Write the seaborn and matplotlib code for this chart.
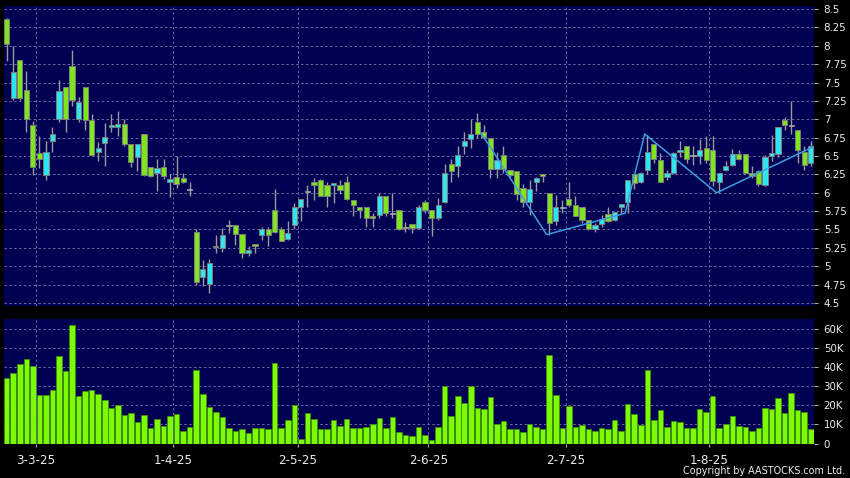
import matplotlib
matplotlib.use("Agg")
import matplotlib.pyplot as plt
import numpy as np
import seaborn as sns

# daily candles, Feb-24-25 .. Aug-25-25 (trading days only)
open_ = [8.36, 7.29, 7.80, 7.40, 6.92, 6.54, 6.24, 6.70, 7.00, 7.44,
         7.73, 7.00, 7.44, 6.99, 6.56, 6.68, 6.89, 6.89, 6.93, 6.66,
         6.48, 6.80, 6.35, 6.27, 6.35, 6.15, 6.22, 6.20, 6.04, 5.46,
         4.85, 4.76, 5.28, 5.25, 5.55, 5.56, 5.44, 5.18, 5.30, 5.43,
         5.50, 5.77, 5.50, 5.37, 5.56, 5.80, 6.02, 6.14, 6.17, 6.10,
         6.10, 6.10, 6.15, 5.90, 5.81, 5.81, 5.69, 5.70, 5.95, 5.72,
         5.76, 5.53, 5.57, 5.52, 5.87, 5.76, 5.65, 5.88, 6.39, 6.37,
         6.64, 6.73, 6.96, 6.82, 6.75, 6.32, 6.51, 6.31, 6.30, 6.07,
         5.88, 6.14, 6.26, 5.99, 5.61, 5.80, 5.91, 5.84, 5.80, 5.63,
         5.50, 5.58, 5.71, 5.63, 5.80, 5.88, 6.25, 6.14, 6.31, 6.66,
         6.44, 6.21, 6.27, 6.55, 6.64, 6.51, 6.50, 6.61, 6.58, 6.14,
         6.31, 6.38, 6.53, 6.53, 6.27, 6.29, 6.11, 6.50, 6.53, 6.99,
         6.92, 6.85, 6.56, 6.40]
high = [8.38, 8.00, 7.80, 7.65, 6.97, 6.77, 6.71, 6.89, 7.54, 7.44,
        7.94, 7.30, 7.44, 7.07, 6.69, 6.95, 7.07, 7.11, 7.00, 6.67,
        6.66, 6.80, 6.35, 6.46, 6.46, 6.26, 6.50, 6.27, 6.14, 5.50,
        5.08, 5.10, 5.43, 5.52, 5.63, 5.56, 5.44, 5.28, 5.30, 5.53,
        5.54, 6.05, 5.53, 5.62, 5.86, 5.91, 6.11, 6.20, 6.19, 6.14,
        6.13, 6.18, 6.23, 5.90, 5.81, 5.81, 5.72, 5.99, 5.95, 6.00,
        5.76, 5.60, 5.57, 5.83, 5.90, 5.76, 5.93, 6.39, 6.46, 6.64,
        6.82, 7.01, 7.08, 6.92, 6.75, 6.56, 6.64, 6.31, 6.30, 6.12,
        6.18, 6.22, 6.26, 5.99, 5.97, 5.90, 6.14, 5.95, 5.80, 5.63,
        5.59, 5.70, 5.81, 5.74, 5.85, 6.18, 6.25, 6.28, 6.79, 6.66,
        6.54, 6.31, 6.56, 6.70, 6.64, 6.63, 6.73, 6.77, 6.77, 6.27,
        6.43, 6.60, 6.58, 6.53, 6.36, 6.31, 6.51, 6.79, 6.89, 7.03,
        7.25, 6.85, 6.63, 6.70]
low = [7.79, 7.26, 7.26, 6.82, 6.24, 6.33, 6.18, 6.56, 6.96, 6.83,
       7.18, 6.96, 6.86, 6.51, 6.43, 6.37, 6.82, 6.77, 6.64, 6.35,
       6.30, 6.23, 6.21, 6.03, 6.19, 5.94, 6.07, 6.13, 5.96, 4.75,
       4.73, 4.64, 5.18, 5.20, 5.45, 5.29, 5.11, 5.14, 5.18, 5.36,
       5.28, 5.45, 5.34, 5.36, 5.50, 5.61, 5.81, 5.90, 5.95, 5.80,
       5.86, 5.98, 5.90, 5.69, 5.65, 5.53, 5.54, 5.66, 5.68, 5.66,
       5.49, 5.47, 5.45, 5.50, 5.72, 5.41, 5.63, 5.86, 6.14, 6.21,
       6.53, 6.61, 6.75, 6.73, 6.20, 6.20, 6.27, 6.22, 5.90, 5.81,
       5.70, 6.02, 6.14, 5.43, 5.56, 5.72, 5.80, 5.68, 5.59, 5.49,
       5.46, 5.54, 5.60, 5.62, 5.72, 5.72, 6.05, 6.13, 6.25, 6.40,
       6.14, 6.17, 6.25, 6.49, 6.40, 6.38, 6.39, 6.40, 6.09, 6.00,
       6.29, 6.36, 6.45, 6.26, 6.20, 6.09, 6.09, 6.43, 6.49, 6.86,
       6.80, 6.40, 6.31, 6.37]
close = [8.02, 7.64, 7.29, 7.01, 6.35, 6.46, 6.56, 6.80, 7.39, 7.01,
         7.26, 7.23, 6.99, 6.51, 6.61, 6.76, 6.92, 6.93, 6.66, 6.42,
         6.66, 6.24, 6.23, 6.33, 6.23, 6.19, 6.12, 6.15, 6.04, 4.78,
         4.96, 5.04, 5.26, 5.43, 5.55, 5.44, 5.18, 5.22, 5.27, 5.50,
         5.43, 5.47, 5.35, 5.45, 5.80, 5.91, 6.02, 6.10, 5.95, 5.95,
         6.13, 6.04, 5.91, 5.83, 5.76, 5.66, 5.66, 5.95, 5.72, 5.72,
         5.51, 5.53, 5.52, 5.80, 5.77, 5.65, 5.83, 6.27, 6.29, 6.52,
         6.71, 6.80, 6.80, 6.76, 6.32, 6.44, 6.32, 6.24, 5.98, 5.88,
         6.05, 6.20, 6.23, 5.59, 5.80, 5.80, 5.84, 5.69, 5.63, 5.50,
         5.56, 5.64, 5.62, 5.74, 5.85, 6.18, 6.13, 6.27, 6.56, 6.46,
         6.15, 6.27, 6.54, 6.58, 6.46, 6.51, 6.58, 6.45, 6.16, 6.27,
         6.37, 6.53, 6.46, 6.27, 6.23, 6.12, 6.49, 6.54, 6.89, 6.92,
         6.92, 6.58, 6.38, 6.63]
volume_k = [34.4, 36.8, 41.8, 44.2, 40.7, 25.4, 25.4, 27.9, 46.1, 38.2,
            62.3, 25.1, 27.5, 27.9, 26.0, 23.0, 18.9, 20.2, 14.9, 15.8,
            11.2, 15.1, 8.2, 12.8, 9.3, 14.6, 15.3, 6.5, 8.6, 38.6,
            25.8, 19.1, 16.8, 13.9, 8.1, 6.8, 7.5, 5.4, 8.1, 7.9,
            7.5, 42.1, 8.1, 12.3, 20.0, 2.6, 16.1, 13.0, 7.4, 7.7,
            12.1, 9.1, 13.0, 8.1, 8.4, 8.8, 10.2, 13.2, 8.4, 14.0,
            6.3, 4.7, 3.9, 8.8, 4.4, 2.1, 8.8, 30.2, 14.4, 24.9,
            21.1, 30.4, 18.6, 18.2, 24.6, 10.2, 11.6, 7.5, 7.5, 6.0,
            10.5, 8.6, 7.4, 46.3, 25.4, 8.2, 19.6, 8.6, 9.6, 7.4,
            6.5, 7.9, 7.5, 12.1, 6.5, 20.7, 15.3, 9.6, 38.6, 12.1,
            17.5, 8.9, 11.8, 11.2, 7.9, 7.9, 18.1, 16.5, 24.7, 8.2,
            10.2, 14.7, 9.1, 8.6, 6.7, 8.1, 18.9, 18.2, 24.0, 16.0,
            26.5, 17.5, 16.5, 7.7]

# month labels and the trading-day index of the first day of each month
month_labels = ["3-3-25", "1-4-25", "2-5-25", "2-6-25", "2-7-25", "1-8-25"]
month_first_day = [5, 26, 45, 65, 86, 108]

# zig-zag trend line (day index, price)
zig_day = [72.6, 82.6, 94.6, 97.6, 108.6, 123.5]
zig_price = [6.81, 5.43, 5.72, 6.80, 6.00, 6.63]

price_ticks = [4.5, 4.75, 5, 5.25, 5.5, 5.75, 6, 6.25, 6.5, 6.75, 7, 7.25, 7.5, 7.75, 8, 8.25, 8.5]
volume_ticks_k = [0, 10, 20, 30, 40, 50, 60]

NAVY = "#000052"
UP = "#2ee6f0"
DOWN = "#7ee61c"
VOL = "#7cfc00"
GRID = "#6a6aa6"
TXT = "#ececec"

sns.set_style("dark", {"axes.facecolor": NAVY, "figure.facecolor": "black"})
plt.rcParams["font.family"] = ["DejaVu Sans"]

fig = plt.figure(figsize=(8.5, 4.78), dpi=100, facecolor="black")
ax_p = fig.add_axes([4 / 850, 1 - 306 / 478, 810 / 850, 300 / 478])
ax_v = fig.add_axes([4 / 850, 1 - 443.5 / 478, 810 / 850, 124.5 / 478])

day = np.arange(len(open_))
o = np.array(open_)
c = np.array(close)
up = c > o
flat = c == o

# wicks
ax_p.vlines(day, low, high, color="#9a9a9a", lw=1, zorder=3)
# bodies
body_bottom = np.minimum(o, c)
body_height = np.abs(c - o)
colors = np.where(up, UP, DOWN)
ax_p.bar(day[~flat], body_height[~flat], bottom=body_bottom[~flat], width=0.8,
         color=colors[~flat], edgecolor="#7c7c7c", linewidth=0.7, zorder=4)
ax_p.bar(day[flat], 0.012, bottom=o[flat] - 0.006, width=0.8,
         color="#a8a8a8", edgecolor="#a8a8a8", linewidth=0.5, zorder=4)

# trend line
sns.lineplot(x=zig_day, y=zig_price, ax=ax_p, color="#3d9de0", lw=1.1, zorder=5, sort=False)

# volume
sns.barplot(x=day, y=np.array(volume_k) * 1000, native_scale=True, ax=ax_v,
            color=VOL, saturation=1, edgecolor="#3e8a10", linewidth=0.6,
            width=0.85, errorbar=None)

grid_x = [d - 0.5 for d in month_first_day]
for ax in (ax_p, ax_v):
    ax.set_facecolor(NAVY)
    ax.set_xlim(-0.41, 123.5)
    for s in ax.spines.values():
        s.set_visible(False)
    ax.grid(False)
    ax.yaxis.tick_right()
    ax.set_xlabel("")
    ax.set_ylabel("")
    for gx in grid_x:
        ax.axvline(gx, color=GRID, lw=0.7, ls=(0, (2.5, 2.5)), zorder=1)

ax_p.set_ylim(4.459, 8.541)
ax_p.set_yticks(price_ticks)
ax_p.set_yticklabels(["%g" % t for t in price_ticks])
for t in price_ticks:
    ax_p.axhline(t, color=GRID, lw=0.7, ls=(0, (2.5, 2.5)), zorder=1)
ax_p.set_xticks([])
ax_p.tick_params(axis="y", colors="#b0b0b0", labelcolor=TXT, labelsize=7.4,
                 length=3, width=0.8, pad=4, right=True, left=False)

ax_v.set_ylim(0, 65400)
ax_v.set_yticks([v * 1000 for v in volume_ticks_k])
ax_v.set_yticklabels(["0" if v == 0 else "%dK" % v for v in volume_ticks_k])
for v in volume_ticks_k[1:]:
    ax_v.axhline(v * 1000, color=GRID, lw=0.7, ls=(0, (2.5, 2.5)), zorder=0.5)
ax_v.set_xticks(grid_x)
ax_v.set_xticklabels(month_labels)
ax_v.tick_params(axis="y", colors="#b0b0b0", labelcolor=TXT, labelsize=7.4,
                 length=3, width=0.8, pad=4, right=True, left=False)
ax_v.tick_params(axis="x", colors="#b0b0b0", labelcolor=TXT, labelsize=8.6,
                 length=2.5, width=0.8, pad=5, bottom=True)

fig.text(845 / 850, 1 - 471 / 478, "Copyright by AASTOCKS.com Ltd.", color=TXT,
         fontsize=6.9, ha="right", va="center")

fig.savefig("out.png", dpi=100, facecolor="black")
